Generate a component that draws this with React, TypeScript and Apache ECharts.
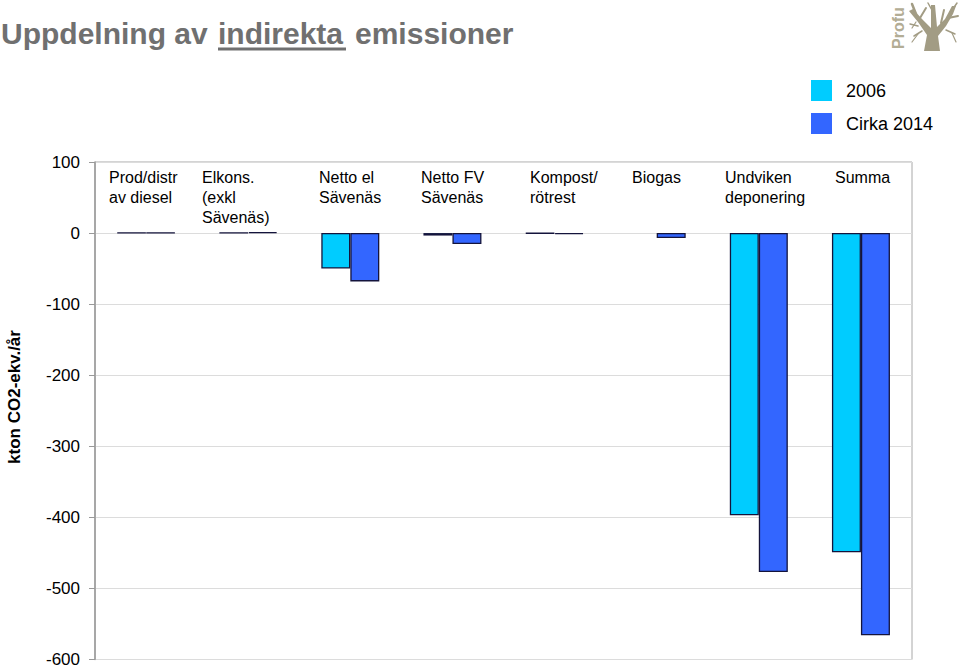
import React, { useEffect, useRef } from "react";
import * as echarts from "echarts";

const categories = [
  "Prod/distr\nav diesel",
  "Elkons.\n(exkl\nSävenäs)",
  "Netto el\nSävenäs",
  "Netto FV\nSävenäs",
  "Kompost/\nrötrest",
  "Biogas",
  "Undviken\ndeponering",
  "Summa",
];
const seriesNames = ["2006", "Cirka 2014"];
const values2006 = [0.5, 0.5, -50, -3.5, -0.5, null, -397, -449];
const values2014 = [0.5, 1.5, -68, -15.5, -1.5, -7, -477, -566];
const yTicks = [100, 0, -100, -200, -300, -400, -500, -600];

// layout (pixel) of the in-plot category captions
const captionLeft = [109, 202, 319, 421, 530, 632, 725, 835];

const FONT = "'Liberation Sans', Arial, Helvetica, sans-serif";

export default function App() {
  const ref = useRef<HTMLDivElement>(null);
  useEffect(() => {
    if (!ref.current) return;
    const chart = echarts.init(ref.current, null, { renderer: "svg" });
    const captions = categories.map((c, i) => ({
      type: "text",
      left: captionLeft[i],
      top: 167,
      style: {
        text: c,
        font: `16px ${FONT}`,
        lineHeight: 20,
        fill: "#000",
      },
    }));
    const branch = (x1: number, y1: number, x2: number, y2: number, w: number) => ({
      type: "line",
      shape: { x1, y1, x2, y2 },
      style: { stroke: "#a29c84", lineWidth: w, lineCap: "round" },
    });
    chart.setOption({
      animation: false,
      textStyle: { fontFamily: FONT },
      grid: {
        left: 95,
        right: 48,
        top: 162,
        bottom: 8,
        show: true,
        borderColor: "#a8a8a8",
        borderWidth: 1,
        backgroundColor: "#fff",
      },
      legend: {
        orient: "vertical",
        left: 811,
        top: 80,
        itemWidth: 21,
        itemHeight: 21,
        itemGap: 12,
        padding: 0,
        icon: "rect",
        itemStyle: { borderWidth: 0 },
        textStyle: { fontSize: 18, color: "#000", fontFamily: FONT, padding: [0, 0, 0, 9] },
        data: seriesNames,
      },
      xAxis: {
        type: "category",
        data: categories,
        axisLine: { show: false },
        axisTick: { show: false },
        axisLabel: { show: false },
        splitLine: { show: false },
      },
      yAxis: {
        type: "value",
        min: yTicks[yTicks.length - 1],
        max: yTicks[0],
        interval: 100,
        axisLine: { show: true, lineStyle: { color: "#999", width: 1.5 } },
        axisTick: { show: true, length: 6, lineStyle: { color: "#999" } },
        axisLabel: { fontSize: 17, color: "#000", margin: 15, fontFamily: FONT },
        splitLine: { show: true, lineStyle: { color: "#dcdcdc", width: 1 } },
      },
      series: [
        {
          name: seriesNames[0],
          type: "bar",
          data: values2006,
          barWidth: 29,
          barGap: "0%",
          itemStyle: { color: "#00ccff", borderColor: "#14143c", borderWidth: 1.3 },
        },
        {
          name: seriesNames[1],
          type: "bar",
          data: values2014,
          barWidth: 29,
          barGap: "0%",
          itemStyle: { color: "#3366ff", borderColor: "#14143c", borderWidth: 1.3 },
        },
      ],
      graphic: [
        {
          type: "text",
          left: 1,
          top: 18,
          style: { text: "Uppdelning av", font: `bold 30px ${FONT}`, fill: "#707070" },
        },
        {
          type: "text",
          left: 218,
          top: 18,
          style: { text: "indirekta", font: `bold 30px ${FONT}`, fill: "#707070" },
        },
        {
          type: "text",
          left: 355,
          top: 18,
          style: { text: "emissioner", font: `bold 30px ${FONT}`, fill: "#707070" },
        },
        {
          type: "line",
          shape: { x1: 218, y1: 49, x2: 346, y2: 49 },
          style: { stroke: "#707070", lineWidth: 3 },
        },
        {
          type: "text",
          x: 14,
          y: 397,
          rotation: Math.PI / 2,
          style: {
            text: "kton CO2-ekv./år",
            font: `bold 17px ${FONT}`,
            fill: "#000",
            align: "center",
            verticalAlign: "middle",
          },
        },
        {
          type: "text",
          x: 898,
          y: 28,
          rotation: Math.PI / 2,
          style: {
            text: "Profu",
            font: `bold 16px ${FONT}`,
            fill: "#b3ad95",
            align: "center",
            verticalAlign: "middle",
          },
        },
        {
          type: "polygon",
          shape: {
            points: [
              [924, 51], [940, 51], [938, 36], [946, 26], [953, 14], [956, 6],
              [952, 6], [945, 19], [937, 27], [935, 5], [931, 5], [931, 28],
              [922, 19], [913, 9], [909, 11], [918, 22], [927, 35],
            ],
          },
          style: { fill: "#a29c84" },
        },
        branch(916, 14, 912, 4, 2.5),
        branch(920, 18, 926, 8, 2),
        branch(941, 23, 944, 10, 2),
        branch(948, 18, 958, 16, 2),
        branch(950, 13, 957, 3, 1.5),
        branch(933, 12, 928, 3, 1.5),
        branch(918, 26, 910, 24, 1.5),
        branch(922, 31, 914, 36, 1.5),
        branch(918, 34, 912, 42, 1.2),
        branch(946, 30, 955, 34, 1.5),
        branch(952, 33, 956, 42, 1.2),
        branch(912, 28, 916, 22, 1.2),
        ...captions,
      ],
    });
    return () => chart.dispose();
  }, []);
  return <div ref={ref} style={{ width: 960, height: 668, position: "absolute", left: 0, top: 0 }} />;
}
